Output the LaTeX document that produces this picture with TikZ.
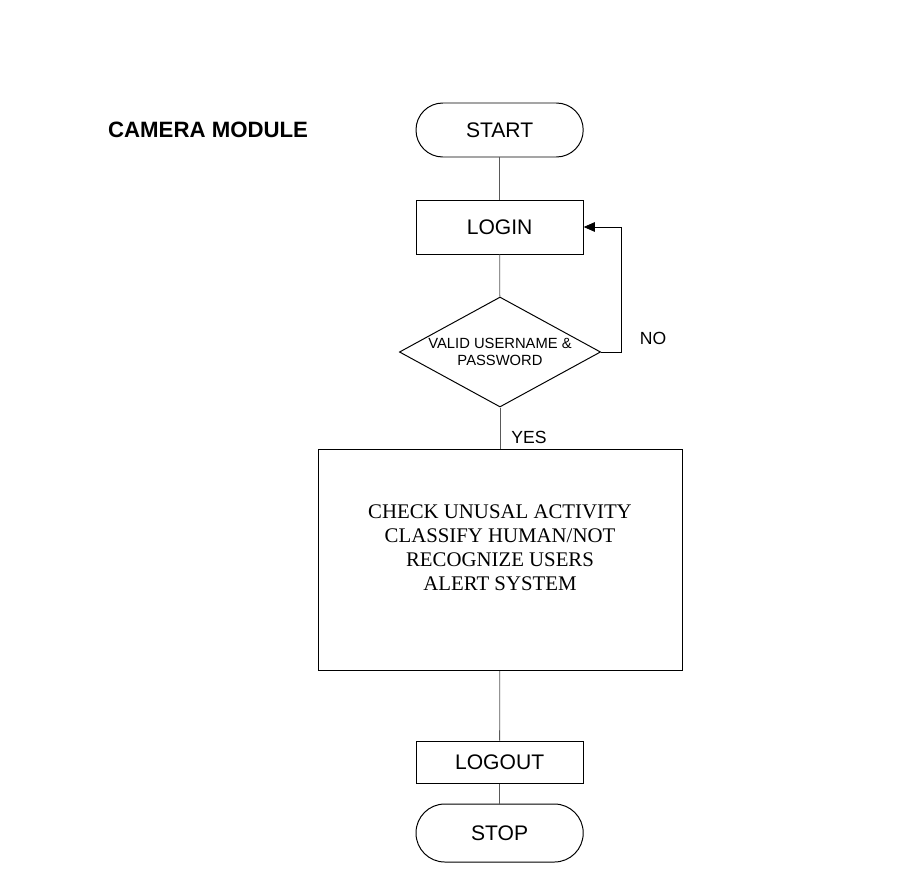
\documentclass[tikz,border=0pt]{standalone}
\usepackage{fontspec}
\setmainfont{Liberation Sans}
\newfontfamily\boxfont{Liberation Serif}
\usetikzlibrary{arrows.meta, positioning, shapes.geometric}

\begin{document}
\begin{tikzpicture}[
  every node/.style={font=\fontsize{15}{18}\selectfont},
  terminal/.style={rectangle, rounded corners=0.67cm, draw, line width=0.7pt, minimum width=4.18cm, minimum height=#1, inner sep=0pt},
  stepbox/.style={rectangle, draw, line width=0.7pt, minimum width=4.18cm, minimum height=#1, inner sep=0pt},
  decision/.style={diamond, aspect=1.83, draw, line width=0.7pt, minimum width=5.03cm, minimum height=2.75cm, inner sep=0pt, align=center, font=\fontsize{10.5}{12}\selectfont},
  link/.style={line width=0.6pt, black!65},
  edge/.style={-{Triangle[length=0.28cm, width=0.24cm]}, line width=0.6pt},
]
\useasboundingbox (0,0) rectangle (22.725,-21.825);

% Title
\node[font=\fontsize{15.8}{18}\selectfont\bfseries, anchor=west] (title) at (2.58, -3.25) {CAMERA MODULE};

% Main flow
\node[terminal=1.35cm] (start) at (12.49, -3.25) {START};
\node[stepbox=1.35cm] (login) at (12.49, -5.675) {LOGIN};
\node[decision] (valid) at (12.5, -8.8) {VALID USERNAME \&\\PASSWORD};
\node[rectangle, draw, line width=0.7pt, minimum width=9.1cm, minimum height=5.525cm] (process) at (12.5, -14.0) {};
\node[font=\boxfont\fontsize{14.8}{17}\selectfont, align=center] (tasks) at (12.5, -13.7) {CHECK UNUSAL ACTIVITY\\CLASSIFY HUMAN/NOT\\RECOGNIZE USERS\\ALERT SYSTEM};
\node[stepbox=1.05cm] (logout) at (12.49, -19.05) {LOGOUT};
\node[terminal=1.45cm, rounded corners=0.72cm] (stop) at (12.49, -20.825) {STOP};

% Edges
\draw[link] (start) -- (login);
\draw[link] (login) -- (valid);
\draw[link] (valid) -- (process);
\draw[link] (process) -- (logout);
\draw[link] (logout) -- (stop);

% Retry loop
\coordinate (retry) at (15.525, -5.675);
\draw[edge] (valid.east) -| (retry) -- (login.east);

% Labels
\node[font=\fontsize{12.5}{15}\selectfont] (no) at (16.325, -8.45) {NO};
\node[font=\fontsize{12.5}{15}\selectfont] (yes) at (13.225, -10.925) {YES};

\end{tikzpicture}
\end{document}
